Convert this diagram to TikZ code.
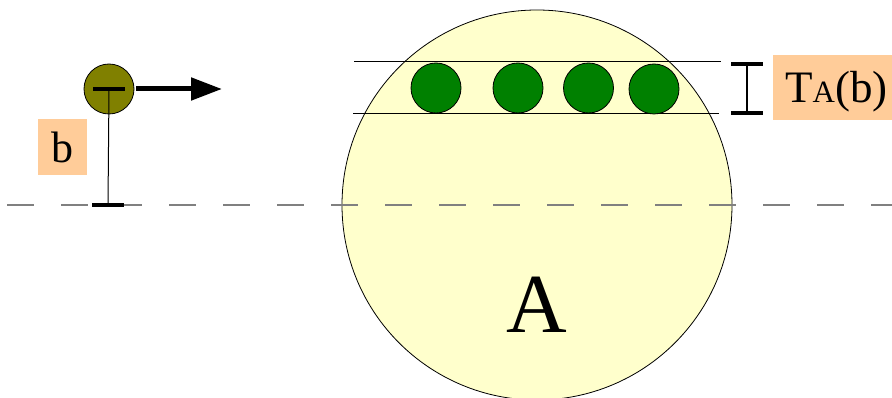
\documentclass[tikz,border=0pt]{standalone}
\usepackage{fontspec}
\setmainfont{Liberation Serif}
\newfontfamily\labelfont{Liberation Serif}
\usetikzlibrary{arrows.meta}
\definecolor{paleyellow}{RGB}{255,255,204}
\definecolor{peach}{RGB}{255,204,153}
\definecolor{olivebead}{RGB}{128,128,0}
\definecolor{greenbead}{RGB}{0,128,0}
\tikzset{
  bead/.style={circle, draw=black, line width=0.8pt, minimum size=50pt, inner sep=0pt},
  tag/.style={fill=peach, inner sep=0pt},
  thinline/.style={line width=1pt},
  capbar/.style={line width=4pt},
}
\begin{document}
\begin{tikzpicture}[x=1pt,y=-1pt]
\useasboundingbox (0,0) rectangle (892,398);
\clip (0,0) rectangle (892,398);
% target disc
\node[circle, draw=black, line width=0.8pt, fill=paleyellow, minimum size=390pt, inner sep=0pt] (disc) at (537,205) {};
\node[font=\labelfont\fontsize{84}{84}\selectfont] (A) at (537,305) {A};
% axis through the centre
\draw[gray, line width=1.5pt, dash pattern=on 27pt off 27pt] (7,205) -- (892,205);
% band of traversed beads
\coordinate (bandTL) at (354,62);
\coordinate (bandTR) at (721,62);
\coordinate (bandBL) at (353,114);
\coordinate (bandBR) at (719,114);
\draw[thinline] (bandTL) -- (bandTR);
\draw[thinline] (bandBL) -- (bandBR);
\node[bead, fill=greenbead] (g1) at (436,88) {};
\node[bead, fill=greenbead] (g2) at (518,88) {};
\node[bead, fill=greenbead] (g3) at (588.5,88) {};
\node[bead, fill=greenbead] (g4) at (654,89) {};
% band width marker
\coordinate (wt) at (747,64);
\coordinate (wb) at (747,113);
\draw[line width=1.2pt] (wt) -- (wb);
\draw[capbar] ([xshift=-16pt]wt) -- ([xshift=16pt]wt);
\draw[capbar] ([xshift=-16pt]wb) -- ([xshift=16pt]wb);
\node[tag, minimum width=130pt, minimum height=65pt, anchor=north west] (tlab) at (773,55) {};
\node[anchor=base west, inner sep=0pt, font=\labelfont\fontsize{45}{45}\selectfont] (tlabtext) at (785,103) {T{\fontsize{31}{31}\selectfont A}(b)};
% incoming projectile and impact parameter
\node[bead, fill=olivebead] (p) at (109,89) {};
\coordinate (pbase) at (108,205);
\draw[line width=1pt] (p.center) -- (pbase);
\draw[capbar] ([xshift=-16pt]p.center) -- ([xshift=16pt]p.center);
\draw[capbar] ([xshift=-16pt]pbase) -- ([xshift=16pt]pbase);
\coordinate (arrowend) at (222,89);
\draw[line width=5pt, -{Triangle[length=31pt, width=22pt]}] (p.east) ++(2,0) coordinate (arrowstart) -- (arrowend);
\node[tag, minimum width=49pt, minimum height=56pt, font=\labelfont\fontsize{44}{44}\selectfont] (blab) at (62.5,147) {b};
\end{tikzpicture}
\end{document}
